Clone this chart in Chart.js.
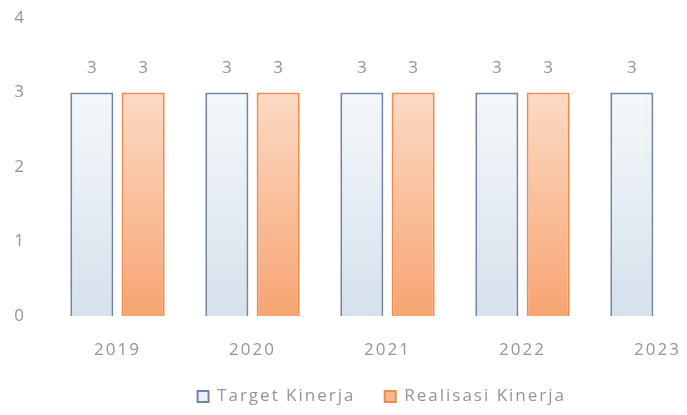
<!DOCTYPE html>
<html>
<head>
<meta charset="utf-8">
<script src="https://cdn.jsdelivr.net/npm/chart.js@4.4.1/dist/chart.umd.min.js"></script>
<style>
  html, body { margin: 0; padding: 0; background: #fff; overflow: hidden; }
  #wrap { width: 770px; height: 415px; }
</style>
</head>
<body>
<div id="wrap"><canvas id="chart" width="770" height="415"></canvas></div>
<script>
const years = ['2019', '2020', '2021', '2022', '2023'];
const targetKinerja = [3, 3, 3, 3, 3];
const realisasiKinerja = [3, 3, 3, 3, null];
const yTicks = [0, 1, 2, 3, 4];

const textGray = '#959595';
const fontFamily = "'Open Sans', 'Liberation Sans', sans-serif";
const spacing = '2px';

function gradient(ctx, top, bottom) {
    const area = ctx.chart.chartArea;
    if (!area) return bottom;
    const g = ctx.chart.ctx.createLinearGradient(0, area.top, 0, area.bottom);
    g.addColorStop(0, top);
    g.addColorStop(1, bottom);
    return g;
}

// the scan has wide letter spacing, canvas resets it on resize
const letterSpacing = {
    id: 'letterSpacing',
    beforeLayout(chart) { chart.ctx.letterSpacing = spacing; },
    beforeDraw(chart) { chart.ctx.letterSpacing = spacing; }
};

// draws the value above each bar
const valueLabels = {
    id: 'valueLabels',
    afterDatasetsDraw(chart) {
        const ctx = chart.ctx;
        ctx.save();
        ctx.font = '17px ' + fontFamily;
        ctx.fillStyle = textGray;
        ctx.textAlign = 'center';
        ctx.textBaseline = 'middle';
        chart.data.datasets.forEach((ds, i) => {
            chart.getDatasetMeta(i).data.forEach((bar, j) => {
                if (ds.data[j] == null) return;
                ctx.fillText(ds.data[j], bar.x + 1, bar.y - 24);
            });
        });
        ctx.restore();
    }
};

new Chart(document.getElementById('chart'), {
    type: 'bar',
    data: {
        labels: years,
        datasets: [{
            label: 'Target Kinerja',
            data: targetKinerja,
            backgroundColor: c => gradient(c, '#ffffff', '#d6e1ec'),
            borderColor: '#7385a9',
            borderWidth: 2,
            categoryPercentage: 0.76,
            barPercentage: 0.84
        }, {
            label: 'Realisasi Kinerja',
            data: realisasiKinerja,
            backgroundColor: c => gradient(c, '#fdece0', '#f7a472'),
            borderColor: '#ef8a4e',
            borderWidth: 2,
            categoryPercentage: 0.76,
            barPercentage: 0.84
        }]
    },
    options: {
        responsive: false,
        animation: false,
        layout: { padding: { left: 0, right: 0, top: 18, bottom: 0 } },
        scales: {
            x: {
                grid: { display: false },
                border: { display: false },
                ticks: { color: textGray, font: { size: 17, family: fontFamily }, padding: 16 },
                afterFit: axis => { axis.height = 62; }
            },
            y: {
                min: 0,
                max: 4,
                afterBuildTicks: axis => { axis.ticks = yTicks.map(v => ({ value: v })); },
                grid: { display: false },
                border: { display: false },
                ticks: { color: textGray, font: { size: 17, family: fontFamily }, padding: 16 },
                afterFit: axis => { axis.width = 50; axis.paddingTop = 0; axis.paddingBottom = 0; }
            },
            // empty right axis, only keeps the plot clear of the right edge
            yRight: {
                position: 'right',
                grid: { display: false },
                border: { display: false },
                ticks: { display: false },
                afterFit: axis => { axis.width = 45; axis.paddingTop = 0; axis.paddingBottom = 0; }
            }
        },
        plugins: {
            legend: {
                position: 'bottom',
                labels: {
                    color: textGray,
                    font: { size: 17, family: fontFamily },
                    boxWidth: 11,
                    boxHeight: 11,
                    padding: 10,
                    generateLabels: chart => [
                        { text: 'Target Kinerja   ', fillStyle: '#edf2f8', strokeStyle: '#7385a9', lineWidth: 2, fontColor: textGray, datasetIndex: 0 },
                        { text: 'Realisasi Kinerja ', fillStyle: '#f9b78f', strokeStyle: '#ef8a4e', lineWidth: 2, fontColor: textGray, datasetIndex: 1 }
                    ]
                }
            },
            tooltip: { enabled: false }
        }
    },
    plugins: [letterSpacing, valueLabels]
});
</script>
</body>
</html>
